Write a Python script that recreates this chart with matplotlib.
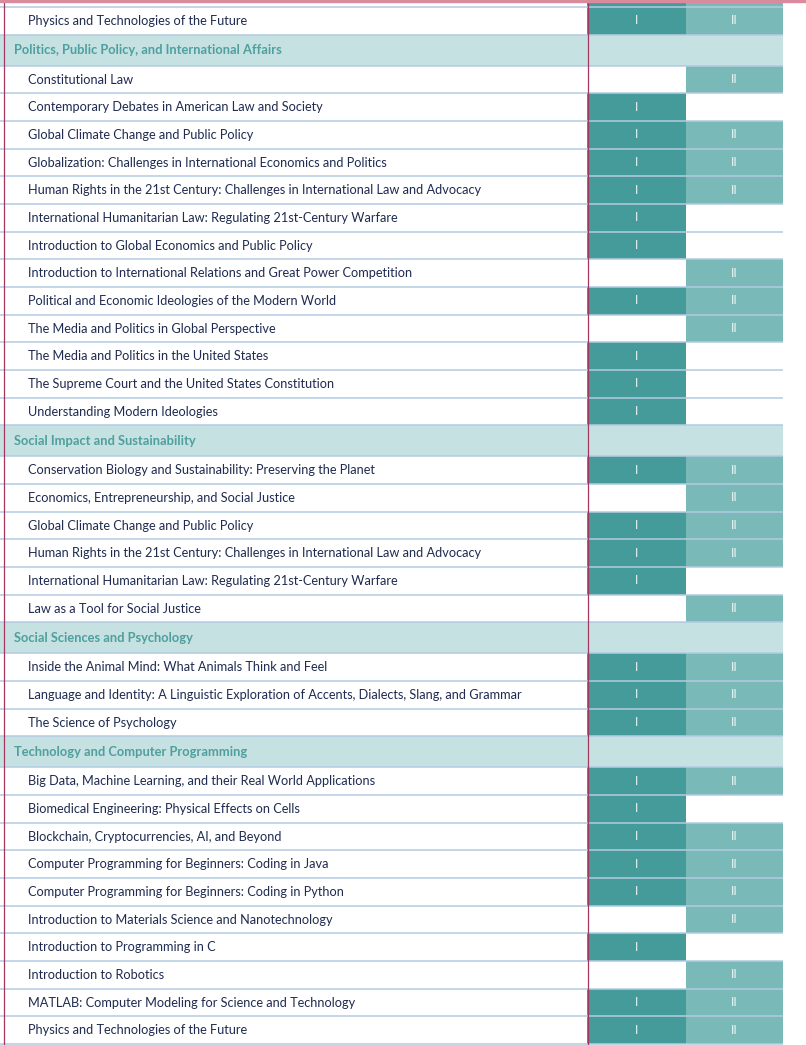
import matplotlib
matplotlib.use("Agg")
import matplotlib.pyplot as plt

# --- data -------------------------------------------------------------
sections = [
    "Politics, Public Policy, and International Affairs",
    "Social Impact and Sustainability",
    "Social Sciences and Psychology",
    "Technology and Computer Programming",
]

lead_courses = ["", "Physics and Technologies of the Future"]
lead_i = [1, 1]
lead_ii = [1, 1]

politics_courses = [
    "Constitutional Law",
    "Contemporary Debates in American Law and Society",
    "Global Climate Change and Public Policy",
    "Globalization: Challenges in International Economics and Politics",
    "Human Rights in the 21st Century: Challenges in International Law and Advocacy",
    "International Humanitarian Law: Regulating 21st-Century Warfare",
    "Introduction to Global Economics and Public Policy",
    "Introduction to International Relations and Great Power Competition",
    "Political and Economic Ideologies of the Modern World",
    "The Media and Politics in Global Perspective",
    "The Media and Politics in the United States",
    "The Supreme Court and the United States Constitution",
    "Understanding Modern Ideologies",
]
politics_i = [0, 1, 1, 1, 1, 1, 1, 0, 1, 0, 1, 1, 1]
politics_ii = [1, 0, 1, 1, 1, 0, 0, 1, 1, 1, 0, 0, 0]

impact_courses = [
    "Conservation Biology and Sustainability: Preserving the Planet",
    "Economics, Entrepreneurship, and Social Justice",
    "Global Climate Change and Public Policy",
    "Human Rights in the 21st Century: Challenges in International Law and Advocacy",
    "International Humanitarian Law: Regulating 21st-Century Warfare",
    "Law as a Tool for Social Justice",
]
impact_i = [1, 0, 1, 1, 1, 0]
impact_ii = [1, 1, 1, 1, 0, 1]

social_courses = [
    "Inside the Animal Mind: What Animals Think and Feel",
    "Language and Identity: A Linguistic Exploration of Accents, Dialects, Slang, and Grammar",
    "The Science of Psychology",
]
social_i = [1, 1, 1]
social_ii = [1, 1, 1]

tech_courses = [
    "Big Data, Machine Learning, and their Real World Applications",
    "Biomedical Engineering: Physical Effects on Cells",
    "Blockchain, Cryptocurrencies, AI, and Beyond",
    "Computer Programming for Beginners: Coding in Java",
    "Computer Programming for Beginners: Coding in Python",
    "Introduction to Materials Science and Nanotechnology",
    "Introduction to Programming in C",
    "Introduction to Robotics",
    "MATLAB: Computer Modeling for Science and Technology",
    "Physics and Technologies of the Future",
]
tech_i = [1, 1, 1, 1, 1, 0, 1, 0, 1, 1]
tech_ii = [1, 0, 1, 1, 1, 1, 0, 1, 1, 1]

# --- style ------------------------------------------------------------
W, H = 806, 1045
ROW_H = 27.67
HEAD_H = 31.0
TOP = 7.0
COL_I = (587, 686)
COL_II = (686, 783)
TABLE_R = 783

C_I = "#459b99"
C_II = "#79b9b8"
C_HEAD = "#c6e1e1"
C_LINE = "#b3cbe1"
C_EDGE = "#a3375e"
C_PINK = "#d98a9c"
C_TEXT = "#1f2b50"
C_HEAD_TEXT = "#4e9f9d"

plt.rcParams["font.family"] = ["Lato", "DejaVu Sans"]

# --- build rows -------------------------------------------------------
rows = []  # (label, is_header, i, ii)
for lab, a, b in zip(lead_courses, lead_i, lead_ii):
    rows.append((lab, False, a, b))
blocks = [
    (politics_courses, politics_i, politics_ii),
    (impact_courses, impact_i, impact_ii),
    (social_courses, social_i, social_ii),
    (tech_courses, tech_i, tech_ii),
]
for name, (courses, fi, fii) in zip(sections, blocks):
    rows.append((name, True, 0, 0))
    for lab, a, b in zip(courses, fi, fii):
        rows.append((lab, False, a, b))

fig = plt.figure(figsize=(W / 100, H / 100), dpi=100)
ax = fig.add_axes([0, 0, 1, 1])
ax.set_xlim(0, W)
ax.set_ylim(H, 0)
ax.axis("off")

# first entry is the clipped row above the visible area
y = TOP - ROW_H
for label, header, has_i, has_ii in rows:
    h = HEAD_H if header else ROW_H
    yc = y + h / 2
    if header:
        ax.barh(yc, TABLE_R, height=h, left=0, color=C_HEAD, zorder=1)
        ax.text(14, yc, label, ha="left", va="center", fontsize=9.3,
                fontweight="bold", color=C_HEAD_TEXT, zorder=4)
    else:
        if has_i:
            ax.barh(yc, COL_I[1] - COL_I[0], height=h, left=COL_I[0],
                    color=C_I, zorder=1)
        if has_ii:
            ax.barh(yc, COL_II[1] - COL_II[0], height=h, left=COL_II[0],
                    color=C_II, zorder=1)
        if label:
            ax.text(28, yc, label, ha="left", va="center", fontsize=9.2,
                    color=C_TEXT, zorder=4)
            if has_i:
                ax.text(sum(COL_I) / 2, yc, "I", ha="center", va="center",
                        fontsize=8.5, color="#eef7f6", family="DejaVu Sans",
                        zorder=4)
            if has_ii:
                ax.text(sum(COL_II) / 2, yc, "II", ha="center", va="center",
                        fontsize=8.5, color="#eef7f6", family="DejaVu Sans",
                        zorder=4)
    y += h
    ax.plot([0, TABLE_R], [y, y], color=C_LINE, lw=1.1, zorder=2,
            solid_capstyle="butt")

# vertical borders and top rule
for xv in (3.5, 587.5):
    ax.plot([xv, xv], [2, y], color=C_EDGE, lw=0.9, zorder=3)
ax.axhspan(0, 2.2, color=C_PINK, zorder=5)

fig.savefig("out.png", dpi=100)
